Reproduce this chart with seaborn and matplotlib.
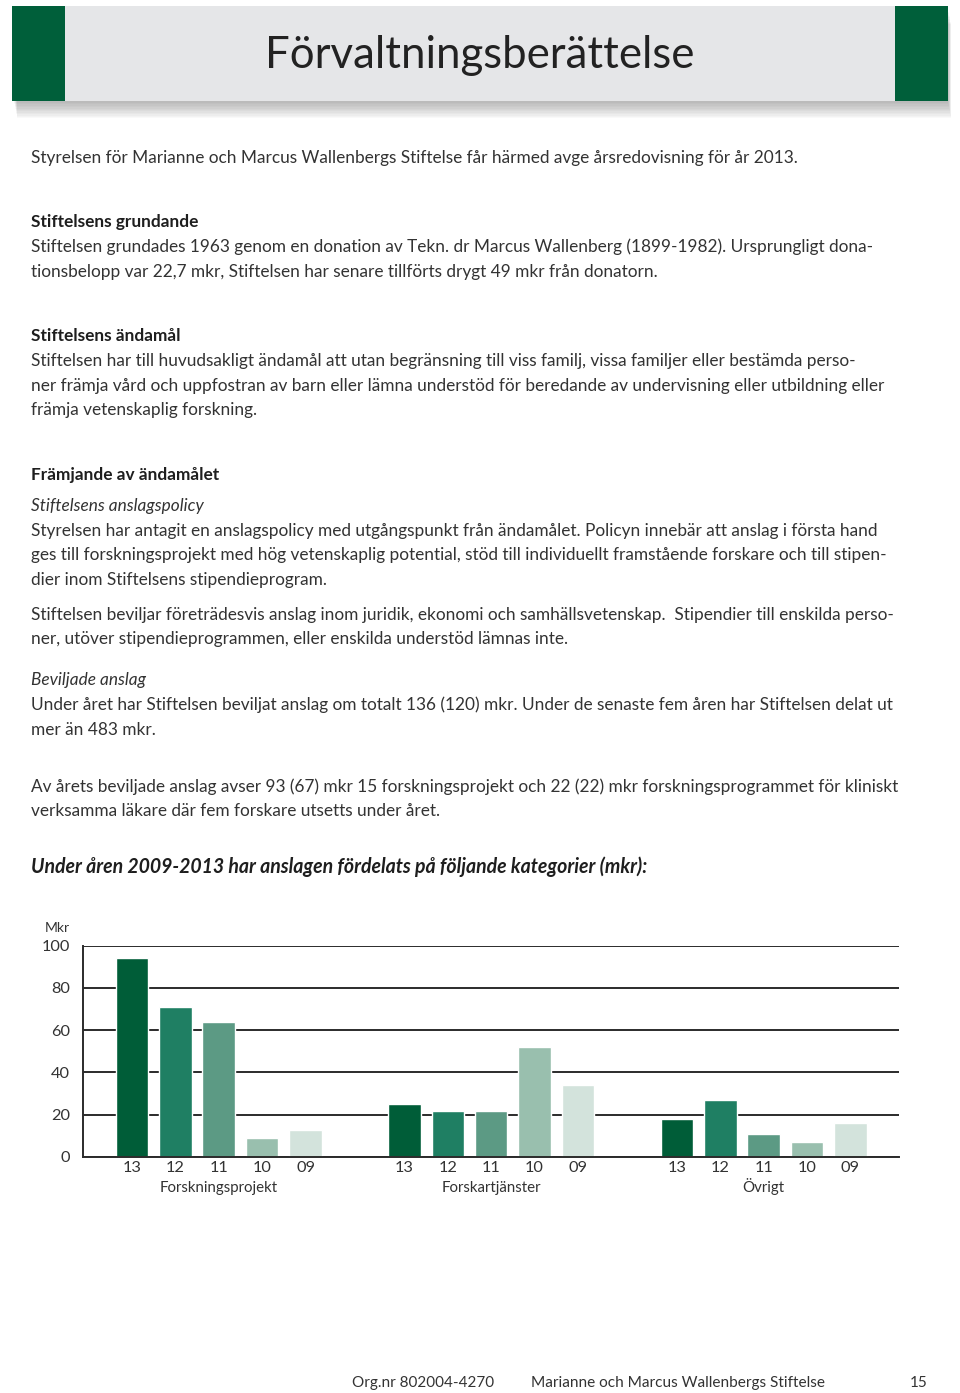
import matplotlib
matplotlib.use("Agg")
import matplotlib.pyplot as plt
from matplotlib.patches import Rectangle
import pandas as pd
import seaborn as sns

# Data (mkr)
categories = ["Forskningsprojekt", "Forskartjänster", "Övrigt"]
years = ["13", "12", "11", "10", "09"]
forskningsprojekt = [94, 71, 64, 9, 13]
forskartjanster = [25, 22, 22, 52, 34]
ovrigt = [18, 27, 11, 7, 16]
y_ticks = [0, 20, 40, 60, 80, 100]

year_colors = {"13": "#005d38", "12": "#1f7f63", "11": "#5c9a84",
               "10": "#99bfae", "09": "#d3e3dc"}

title = "Förvaltningsberättelse"
body = [
    (158, "Styrelsen för Marianne och Marcus Wallenbergs Stiftelse får härmed avge årsredovisning för år 2013.", "normal", "normal"),
    (222, "Stiftelsens grundande", "bold", "normal"),
    (247, "Stiftelsen grundades 1963 genom en donation av Tekn. dr Marcus Wallenberg (1899-1982). Ursprungligt dona-", "normal", "normal"),
    (272, "tionsbelopp var 22,7 mkr, Stiftelsen har senare tillförts drygt 49 mkr från donatorn.", "normal", "normal"),
    (336, "Stiftelsens ändamål", "bold", "normal"),
    (361, "Stiftelsen har till huvudsakligt ändamål att utan begränsning till viss familj, vissa familjer eller bestämda perso-", "normal", "normal"),
    (386, "ner främja vård och uppfostran av barn eller lämna understöd för beredande av undervisning eller utbildning eller", "normal", "normal"),
    (410, "främja vetenskaplig forskning.", "normal", "normal"),
    (475, "Främjande av ändamålet", "bold", "normal"),
    (506, "Stiftelsens anslagspolicy", "normal", "italic"),
    (531, "Styrelsen har antagit en anslagspolicy med utgångspunkt från ändamålet. Policyn innebär att anslag i första hand", "normal", "normal"),
    (555, "ges till forskningsprojekt med hög vetenskaplig potential, stöd till individuellt framstående forskare och till stipen-", "normal", "normal"),
    (580, "dier inom Stiftelsens stipendieprogram.", "normal", "normal"),
    (615, "Stiftelsen beviljar företrädesvis anslag inom juridik, ekonomi och samhällsvetenskap.  Stipendier till enskilda perso-", "normal", "normal"),
    (639, "ner, utöver stipendieprogrammen, eller enskilda understöd lämnas inte.", "normal", "normal"),
    (680, "Beviljade anslag", "normal", "italic"),
    (705, "Under året har Stiftelsen beviljat anslag om totalt 136 (120) mkr. Under de senaste fem åren har Stiftelsen delat ut", "normal", "normal"),
    (730, "mer än 483 mkr.", "normal", "normal"),
    (787, "Av årets beviljade anslag avser 93 (67) mkr 15 forskningsprojekt och 22 (22) mkr forskningsprogrammet för kliniskt", "normal", "normal"),
    (811, "verksamma läkare där fem forskare utsetts under året.", "normal", "normal"),
]
chart_heading = "Under åren 2009-2013 har anslagen fördelats på följande kategorier (mkr):"
footer_org = "Org.nr 802004-4270"
footer_name = "Marianne och Marcus Wallenbergs Stiftelse"
footer_page = "15"

GROUP_GAP = 6.28
GREEN = "#005f3a"
TEXT = "#333333"

sns.set_theme(style="white")
plt.rcParams["font.family"] = ["Lato", "DejaVu Sans"]

W, H = 960, 1393
fig = plt.figure(figsize=(W / 100, H / 100), dpi=100)

# page canvas in pixel coordinates
page = fig.add_axes([0, 0, 1, 1])
page.set_xlim(0, W)
page.set_ylim(H, 0)
page.axis("off")

# header band with soft shadow
for i in range(12):
    page.add_patch(Rectangle((14 + i * 0.3, 9 + i * 1.4), 934, 94,
                             color="#000000", alpha=0.025, lw=0, zorder=1))
page.add_patch(Rectangle((12, 6), 936, 95, color="#e5e6e8", lw=0, zorder=2))
page.add_patch(Rectangle((12, 6), 53, 95, color=GREEN, lw=0, zorder=3))
page.add_patch(Rectangle((895, 6), 53, 95, color=GREEN, lw=0, zorder=3))
page.text(480, 55, title, fontsize=31.5, color="#222222",
          ha="center", va="center", zorder=4)

for y, line, weight, style in body:
    page.text(31, y, line, fontsize=12.4, fontweight=weight, fontstyle=style,
              color="#1e1e1e" if weight == "bold" else TEXT,
              ha="left", va="center")

page.text(31, 867, chart_heading, fontsize=14.05, fontweight="bold",
          fontstyle="italic", color="#1e1e1e", ha="left", va="center")

page.text(70, 928, "Mkr", fontsize=10, color=TEXT, ha="right", va="center")

page.text(352, 1383, footer_org, fontsize=11, color=TEXT, ha="left", va="center")
page.text(531, 1383, footer_name, fontsize=11.1, color=TEXT, ha="left", va="center")
page.text(928, 1383, footer_page, fontsize=11, color=TEXT, ha="right", va="center")

# chart data
rows = []
for g, vals in enumerate([forskningsprojekt, forskartjanster, ovrigt]):
    for i, (yr, v) in enumerate(zip(years, vals)):
        rows.append({"category": categories[g], "year": yr,
                     "pos": g * GROUP_GAP + i, "mkr": v})
df = pd.DataFrame(rows)

ax = fig.add_axes([82.7 / W, 1 - 1157 / H, 816.6 / W, 211.3 / H])
sns.barplot(data=df, x="pos", y="mkr", hue="year", palette=year_colors,
            native_scale=True, dodge=False, width=0.75, saturation=1,
            legend=False, ax=ax, zorder=3)

ax.set_xlim(-1.136, 2 * GROUP_GAP + 4 + 1.127)
ax.set_ylim(0, 100)
ax.set_yticks(y_ticks)
ax.set_axisbelow(True)
ax.yaxis.grid(True, color="#2b2b2b", lw=1.4)
ax.xaxis.grid(False)
for side in ["top", "right"]:
    ax.spines[side].set_visible(False)
for side in ["left", "bottom"]:
    ax.spines[side].set_color("#2b2b2b")
    ax.spines[side].set_linewidth(1.4)
ax.spines["left"].set_zorder(4)
ax.spines["bottom"].set_zorder(4)

ax.set_xticks(df["pos"])
ax.set_xticklabels(df["year"])
ax.tick_params(axis="both", length=0, labelsize=11.8, labelcolor=TEXT)
ax.tick_params(axis="x", pad=3)
ax.tick_params(axis="y", pad=9)
ax.set_xlabel("")
ax.set_ylabel("")

for g, cat in enumerate(categories):
    ax.annotate(cat, xy=(g * GROUP_GAP + 2, 0), xycoords="data",
                xytext=(0, -25.2), textcoords="offset points",
                ha="center", va="baseline", fontsize=10.8, color=TEXT)

fig.savefig("out.png", dpi=100, facecolor="white")
